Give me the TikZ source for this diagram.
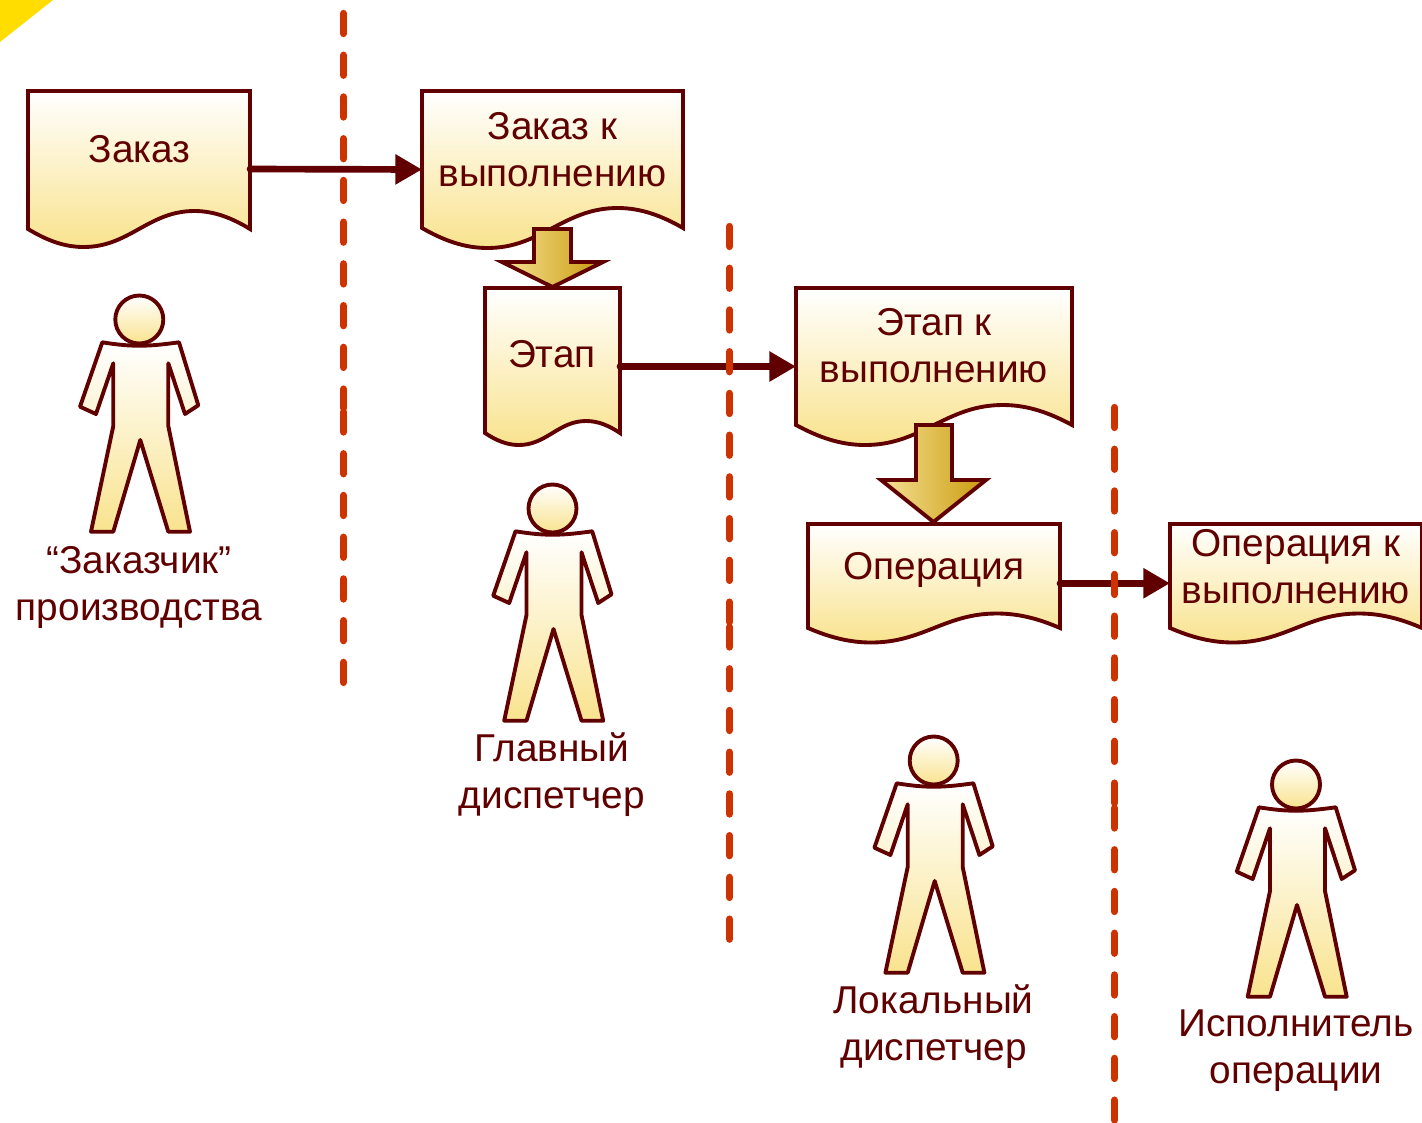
\documentclass[tikz,border=0pt]{standalone}
\usepackage{fontspec}
\setmainfont{Liberation Sans}
\usetikzlibrary{arrows.meta}
\definecolor{ink}{HTML}{600000}
\definecolor{dashred}{HTML}{CC3300}
\definecolor{paleend}{HTML}{F9E38E}
\definecolor{goldleft}{HTML}{F6E196}
\definecolor{goldright}{HTML}{C99B0C}
\definecolor{corner}{HTML}{FFDD00}
\tikzset{
  docshape/.style={draw=ink,line width=2.9pt,top color=white,bottom color=paleend,line join=miter},
  docbox/.style={inner sep=0pt,outer sep=0pt,rectangle},
  persona/.style={draw=ink,line width=2.9pt,top color=white,bottom color=paleend,line join=round},
  blockarrow/.style={draw=ink,line width=2.9pt,left color=goldleft,right color=goldright,line join=miter},
  flow/.style={draw=ink,line width=5pt,line cap=round,-{Triangle[length=20pt,width=21.5pt,fill=ink]}},
  bounddash/.style={draw=dashred,line width=5.5pt,line cap=round,dash pattern=on 15pt off 16.3pt},
  caption/.style={text=ink,font=\fontsize{29.1pt}{35.25pt}\selectfont,align=center,inner sep=0pt,anchor=center}
}
% name, x0, top, x1, left/right corner y, wave depth
\newcommand{\docsheet}[6]{%
  \pgfmathsetmacro{\shW}{#4-#2}%
  \pgfmathsetmacro{\shH}{#5+#6-#3}%
  \path[docshape] (#2,#3) -- (#4,#3) -- (#4,#5)
    .. controls ({#4-.08*\shW},{#5-.6*#6}) and ({#4-.16*\shW},{#5-#6}) .. ({#4-.25*\shW},{#5-#6})
    .. controls ({#4-.35*\shW},{#5-#6}) and ({#4-.42*\shW},{#5-.55*#6}) .. ({#4-.5*\shW},#5)
    .. controls ({#4-.58*\shW},{#5+.55*#6}) and ({#4-.65*\shW},{#5+#6}) .. ({#4-.75*\shW},{#5+#6})
    .. controls ({#4-.84*\shW},{#5+#6}) and ({#4-.92*\shW},{#5+.6*#6}) .. (#2,#5) -- cycle;
  \node[docbox,minimum width=\shW*0.75pt,minimum height=\shH*0.75pt] (#1) at ({(#2+#4)/2},{#3+\shH/2}) {};
}
% head centre x, y
\newcommand{\personfig}[2]{%
  \begin{scope}[shift={(#1,#2)}]
    \path[persona] (-37,22.8) .. controls (-20,25.5) and (-10,26.2) .. (0,26.2)
      .. controls (10,26.2) and (20,25.5) .. (39.7,22.8)
      -- (59,85.8) -- (45.7,94.5) -- (29,43.8) -- (29,106.5) -- (50.7,212.2) -- (29,212.2)
      -- (1,120.5) -- (-26,212.2) -- (-48.3,212.2) -- (-26,106.5) -- (-26,43.8)
      -- (-43.3,94.5) -- (-59.3,87.2) -- cycle;
    \path[persona] (0,0) circle (24);
  \end{scope}
}
\begin{document}
\begin{tikzpicture}[x=0.75pt,y=-0.75pt]
\useasboundingbox (0,0) rectangle (1422,1122);
\fill[corner] (0,0) -- (53,0) -- (0,42) -- cycle;

\docsheet{zakaz}{28}{91}{250}{229}{18}
\docsheet{zakazvyp}{422}{91}{683}{228}{20}
\docsheet{etap}{485}{288}{620}{433}{12}
\docsheet{etapvyp}{796}{288}{1072}{425}{20}
\docsheet{oper}{808}{524}{1060}{628}{14.5}
\docsheet{opervyp}{1170}{524}{1422}{628}{14.5}

\node[caption] (tzakaz) at (139.5,149.5) {Заказ};
\node[caption] (tzakazvyp) at (552.5,150) {Заказ к\\выполнению};
\node[caption] (tetap) at (552,354) {Этап};
\node[caption] (tetapvyp) at (934,346) {Этап к\\выполнению};
\node[caption] (toper) at (934,570) {Операция};
\node[caption] (topervyp) at (1296,567) {Операция к\\выполнению};

\path[blockarrow] (534,229) -- (571,229) -- (571,262) -- (603,262) -- (552.5,287) -- (502,262) -- (534,262) -- cycle;
\path[blockarrow] (916,425) -- (952,425) -- (952,480) -- (986,480) -- (933.5,522) -- (881,480) -- (916,480) -- cycle;

\draw[flow] (zakaz.east) -- (zakazvyp.west);
\draw[flow] (etap.east) -- (etapvyp.west);
\draw[flow] (oper.east) -- (opervyp.west);

\draw[bounddash] (343.5,13.5) -- (343.5,408);
\draw[bounddash] (343.5,412) -- (343.5,685);
\draw[bounddash] (729.5,226.5) -- (729.5,622);
\draw[bounddash] (729.5,627) -- (729.5,940);
\draw[bounddash] (1114.5,407.5) -- (1114.5,803);
\draw[bounddash] (1114.5,808) -- (1114.5,1120);

\personfig{139.3}{319.5}
\personfig{552.5}{508.5}
\personfig{933.7}{760.5}
\personfig{1296}{784.5}

\node[caption] (czak) at (139,587) {“Заказчик”\\производства};
\node[caption] (cglav) at (552,775) {Главный\\диспетчер};
\node[caption] (clok) at (933.5,1027) {Локальный\\диспетчер};
\node[caption] (cisp) at (1296,1051) {Исполнитель\\операции};
\end{tikzpicture}
\end{document}
